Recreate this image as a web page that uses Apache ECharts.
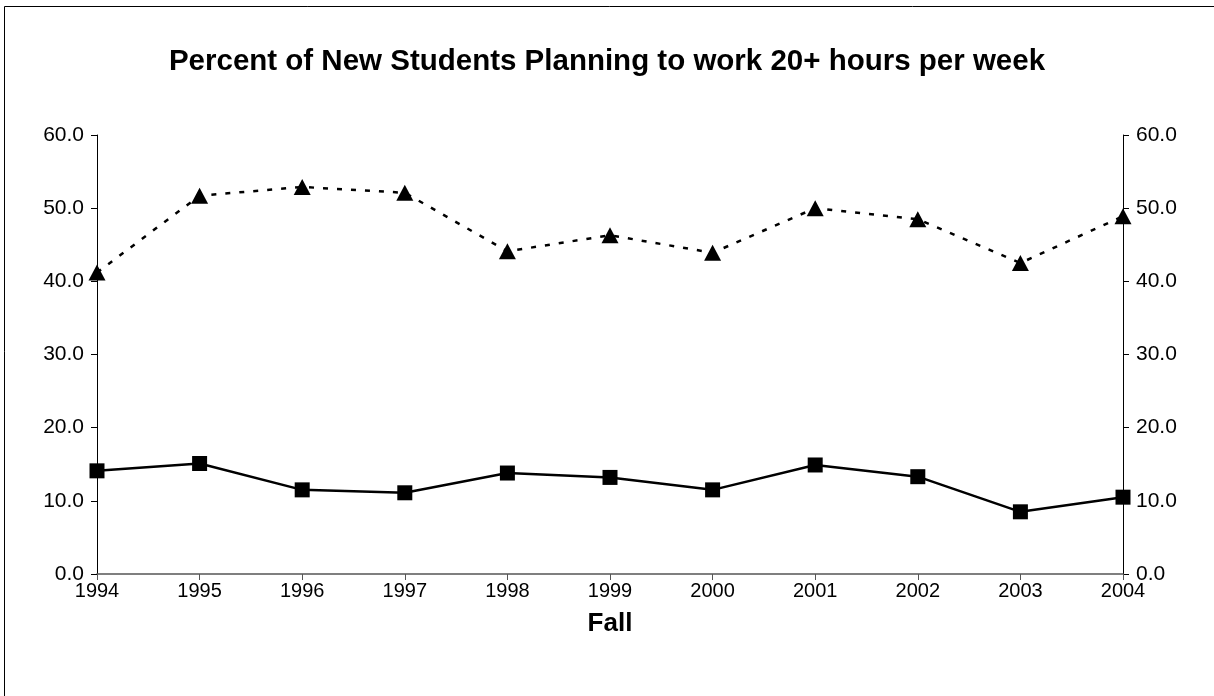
<!DOCTYPE html>
<html>
<head>
<meta charset="utf-8">
<script src="https://cdn.jsdelivr.net/npm/echarts@6/dist/echarts.min.js"></script>
<style>html,body{margin:0;padding:0;background:#fff;}#c{width:1214px;height:696px;}</style>
</head>
<body>
<div id="c"></div>
<script>
const years = ['1994','1995','1996','1997','1998','1999','2000','2001','2002','2003','2004'];
const seriesA = [41.2, 51.7, 52.9, 52.1, 44.1, 46.3, 43.9, 50.0, 48.5, 42.5, 48.9];
const seriesB = [14.1, 15.1, 11.5, 11.1, 13.8, 13.2, 11.5, 14.9, 13.3, 8.5, 10.5];
const yTicks = [0, 10, 20, 30, 40, 50, 60];

const font = 'Liberation Sans, Arial, sans-serif';
const chart = echarts.init(document.getElementById('c'), null, {renderer: 'canvas'});
const yAxisBase = {
  type: 'value', min: yTicks[0], max: yTicks[yTicks.length - 1], interval: 10,
  axisLine: {show: true, lineStyle: {color: '#000', width: 1}},
  axisTick: {show: true, length: 6, lineStyle: {color: '#000'}},
  splitLine: {show: false},
  axisLabel: {formatter: v => v.toFixed(1), fontFamily: font, fontSize: 21, color: '#000', margin: 13}
};
chart.setOption({
  animation: false,
  backgroundColor: '#fff',
  title: {
    text: 'Percent of New Students Planning to work 20+ hours per week',
    left: 'center', top: 42,
    textStyle: {fontFamily: font, fontSize: 29.5, fontWeight: 'bold', color: '#000'}
  },
  graphic: [{
    type: 'rect', shape: {x: 4.5, y: 6.5, width: 1300, height: 800},
    style: {fill: 'none', stroke: '#000', lineWidth: 1}, silent: true, z: -1
  }],
  grid: {left: 97, right: 91, top: 135, bottom: 122, containLabel: false},
  xAxis: {
    type: 'category', data: years, boundaryGap: false,
    name: 'Fall', nameLocation: 'middle', nameGap: 37,
    nameTextStyle: {fontFamily: font, fontSize: 26, fontWeight: 'bold', color: '#000'},
    axisLine: {lineStyle: {color: '#555', width: 1.5}},
    axisTick: {show: true, length: 6, alignWithLabel: true, lineStyle: {color: '#555'}},
    axisLabel: {fontFamily: font, fontSize: 20, color: '#000', margin: 7}
  },
  yAxis: [
    Object.assign({}, yAxisBase, {position: 'left'}),
    Object.assign({}, yAxisBase, {position: 'right'})
  ],
  series: [
    {
      name: 'Series A', type: 'line', data: seriesA, yAxisIndex: 0,
      symbol: 'triangle', symbolSize: [17, 16],
      itemStyle: {color: '#000'},
      lineStyle: {color: '#000', width: 2.5, type: [5, 9]}
    },
    {
      name: 'Series B', type: 'line', data: seriesB, yAxisIndex: 0,
      symbol: 'rect', symbolSize: 15,
      itemStyle: {color: '#000'},
      lineStyle: {color: '#000', width: 2.5}
    }
  ]
});
</script>
</body>
</html>
